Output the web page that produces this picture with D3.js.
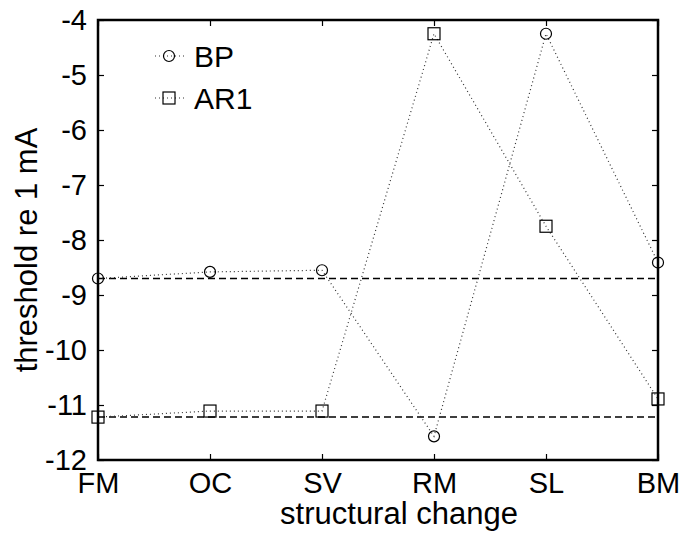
<!DOCTYPE html>
<html>
<head>
<meta charset="utf-8">
<script src="https://cdn.jsdelivr.net/npm/d3@7"></script>
<style>
  body { margin: 0; background: #fff; }
  text { font-family: "Liberation Sans", Arial, sans-serif; fill: #000; }
</style>
</head>
<body>
<div id="chart"></div>
<script>
const categories = ["FM", "OC", "SV", "RM", "SL", "BM"];
const bpValues = [-8.70, -8.58, -8.55, -11.57, -4.25, -8.41];
const ar1Values = [-11.22, -11.11, -11.11, -4.25, -7.75, -10.89];
const yTicks = [-12, -11, -10, -9, -8, -7, -6, -5, -4];

const width = 687, height = 534;
const margin = { top: 20, right: 29, bottom: 74, left: 98 };

const svg = d3.select("#chart").append("svg")
  .attr("width", width)
  .attr("height", height);

const x = d3.scalePoint()
  .domain(categories)
  .range([margin.left, width - margin.right]);

const y = d3.scaleLinear()
  .domain([-12, -4])
  .range([height - margin.bottom, margin.top]);

const x0 = margin.left, x1 = width - margin.right;
const y0 = height - margin.bottom, y1 = margin.top;

// reference dashed lines at the FM values
[bpValues[0], ar1Values[0]].forEach(v => {
  svg.append("line")
    .attr("x1", x0).attr("x2", x1)
    .attr("y1", y(v)).attr("y2", y(v))
    .attr("stroke", "#000")
    .attr("stroke-width", 1.5)
    .attr("stroke-dasharray", "7,4");
});

const line = d3.line()
  .x((d, i) => x(categories[i]))
  .y(d => y(d));

function drawMarker(g, marker, cx, cy) {
  if (marker == "circle") {
    g.append("circle")
      .attr("cx", cx).attr("cy", cy).attr("r", 5.5)
      .attr("fill", "none").attr("stroke", "#000").attr("stroke-width", 1.2);
  } else {
    g.append("rect")
      .attr("x", cx - 6).attr("y", cy - 6)
      .attr("width", 12).attr("height", 12)
      .attr("fill", "none").attr("stroke", "#000").attr("stroke-width", 1.2);
  }
}

function drawSeries(values, marker) {
  svg.append("path")
    .datum(values)
    .attr("d", line)
    .attr("fill", "none")
    .attr("stroke", "#333")
    .attr("stroke-width", 1.2)
    .attr("stroke-dasharray", "1,3");

  const g = svg.append("g");
  values.forEach((v, i) => {
    drawMarker(g, marker, x(categories[i]), y(v));
  });
}

drawSeries(bpValues, "circle");
drawSeries(ar1Values, "square");

// axes box, ticks inward on all sides
const tickLen = 6;
const yAxis = d3.axisLeft(y).tickValues(yTicks).tickSize(-tickLen).tickPadding(11)
  .tickFormat(d => String(d));
const yAxisR = d3.axisRight(y).tickValues(yTicks).tickSize(-tickLen).tickFormat("");
const xAxis = d3.axisBottom(x).tickSize(-tickLen).tickPadding(12);
const xAxisT = d3.axisTop(x).tickSize(-tickLen).tickFormat("");

function styleAxis(g) {
  g.select(".domain").remove();
  g.selectAll(".tick line").attr("stroke", "#000").attr("stroke-width", 1.2);
  g.selectAll(".tick text").style("font-size", "29px").attr("fill", "#000")
    .style("font-family", "'Liberation Sans', Arial, sans-serif");
}

svg.append("g").attr("transform", `translate(${x0},0)`).call(yAxis).call(styleAxis);
svg.append("g").attr("transform", `translate(${x1},0)`).call(yAxisR).call(styleAxis);
svg.append("g").attr("transform", `translate(0,${y0})`).call(xAxis).call(styleAxis);
svg.append("g").attr("transform", `translate(0,${y1})`).call(xAxisT).call(styleAxis);

svg.append("rect")
  .attr("x", x0).attr("y", y1)
  .attr("width", x1 - x0).attr("height", y0 - y1)
  .attr("fill", "none").attr("stroke", "#000").attr("stroke-width", 2.5);

// axis labels
svg.append("text")
  .attr("x", 399).attr("y", 524)
  .attr("text-anchor", "middle")
  .style("font-size", "31px")
  .text("structural change");

svg.append("text")
  .attr("transform", `translate(37,250) rotate(-90)`)
  .attr("text-anchor", "middle")
  .style("font-size", "31px")
  .text("threshold re 1 mA");

// legend
const legendItems = [
  { label: "BP", marker: "circle" },
  { label: "AR1", marker: "square" }
];
const legend = svg.append("g");
legendItems.forEach((d, i) => {
  const ly = 56 + i * 42;
  legend.append("line")
    .attr("x1", 155).attr("x2", 184)
    .attr("y1", ly).attr("y2", ly)
    .attr("stroke", "#333").attr("stroke-width", 1.2).attr("stroke-dasharray", "1,3");
  drawMarker(legend, d.marker, 169, ly);
  legend.append("text")
    .attr("x", 194).attr("y", ly + 11)
    .style("font-size", "30px")
    .text(d.label);
});
</script>
</body>
</html>
